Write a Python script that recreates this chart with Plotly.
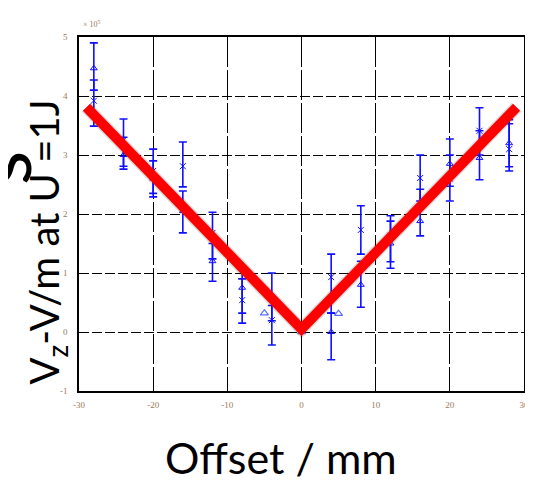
import plotly.graph_objects as go

# Offsets (mm)
offsets = [-28, -24, -20, -16, -12, -8, -4, 4, 8, 12, 16, 20, 24, 28]

# Series A ("x" markers), units of 1e5 V/m
a_val = [3.92, 3.25, 2.73, 2.81, 1.68, 0.54, 0.20, 0.93, 1.73, 1.63, 2.61, 2.60, 3.41, 3.10]
a_hi  = [4.27, 3.61, 3.10, 3.22, 2.03, 0.90, 0.45, 1.32, 2.14, 1.97, 3.00, 3.00, 3.80, 3.53]
a_lo  = [3.49, 2.81, 2.35, 2.46, 1.24, 0.32, -0.22, 0.32, 1.32, 1.19, 2.22, 2.22, 3.00, 2.73]

# Series B (triangle markers)
b_val = [4.47, 3.00, 2.60, 2.05, 1.20, 0.75, 0.55, 0.00, 0.80, 1.50, 1.88, 2.85, 2.95, 3.20]
b_hi  = [4.90, 3.30, 2.90, 2.39, 1.50, 1.12, 1.00, 0.32, 1.20, 1.88, 2.42, 3.27, 3.41, 3.60]
b_lo  = [4.10, 2.76, 2.29, 1.68, 0.86, 0.15, 0.19, -0.47, 0.42, 1.08, 1.63, 2.47, 2.58, 2.80]

# Extra triangle points without error bars
c_x = [-5, 0, 5]
c_val = [0.32, 0.0, 0.31]

# V-shaped fit line
fit_x = [-29, 0, 29]
fit_y = [3.81, 0.05, 3.81]

x_ticks = [-30, -20, -10, 0, 10, 20, 30]
y_ticks = [-1, 0, 1, 2, 3, 4, 5]

blue = "#1010ff"
fig = go.Figure()

def add_series(xs, v, hi, lo, symbol):
    fig.add_trace(go.Scatter(
        x=xs, y=v, mode="markers",
        marker=dict(symbol=symbol, size=6, color=blue, line=dict(color=blue, width=1)),
        error_y=dict(type="data", symmetric=False,
                     array=[h - c for h, c in zip(hi, v)],
                     arrayminus=[c - l for c, l in zip(v, lo)],
                     color=blue, thickness=1.6, width=4),
        showlegend=False))

add_series(offsets, a_val, a_hi, a_lo, "x-thin-open")
add_series(offsets, b_val, b_hi, b_lo, "triangle-up-open")
fig.add_trace(go.Scatter(x=c_x, y=c_val, mode="markers",
                         marker=dict(symbol="triangle-up-open", size=7, color="#5a6cff",
                                     line=dict(width=1.2)),
                         showlegend=False))

# shadow + red fit line
fig.add_trace(go.Scatter(x=fit_x, y=fit_y, mode="lines",
                         line=dict(color="rgba(60,60,60,0.18)", width=13),
                         showlegend=False, hoverinfo="skip"))
fig.add_trace(go.Scatter(x=fit_x, y=fit_y, mode="lines",
                         line=dict(color="#ff0000", width=10),
                         showlegend=False))

tickfont = dict(family="Liberation Serif", size=9, color="#9a7a5a")

fig.update_xaxes(range=[-30, 30], tickvals=x_ticks, ticktext=[str(t) for t in x_ticks],
                 showgrid=True, gridcolor="black", gridwidth=1.4, griddash="30px,3px",
                 showline=True, linecolor="black", linewidth=1.6, mirror=True,
                 zeroline=False, ticks="", tickfont=tickfont, ticklabelstandoff=4)
fig.update_yaxes(range=[-1, 5], tickvals=y_ticks, ticktext=[str(t) for t in y_ticks],
                 showgrid=True, gridcolor="black", gridwidth=1.4, griddash="10px,3px",
                 showline=True, linecolor="black", linewidth=1.6, mirror=True,
                 zeroline=False, ticks="", tickfont=tickfont, ticklabelstandoff=8)

annotations = [
    dict(text="× 10<sup>5</sup>", x=0.0, y=1.0, xref="paper", yref="paper",
         xanchor="left", yanchor="bottom", yshift=6, xshift=2, showarrow=False,
         font=dict(family="Liberation Serif", size=8, color="#9a7a5a")),
    dict(text="V<sub>z</sub>-V/m at U =1J", x=-0.073, y=0.432, xref="paper", yref="paper",
         yshift=-4, textangle=-90, showarrow=False, xanchor="center", yanchor="middle",
         font=dict(family="Lato", size=40, color="black")),
    dict(text="Offset / mm", x=0.453, y=-0.2175, xref="paper", yref="paper",
         yshift=10, showarrow=False, xanchor="center", yanchor="middle",
         font=dict(family="Lato", size=43, color="black")),
]

# partially visible large letter at the left edge (carried by an invisible shape label)
fig.add_shape(type="line", xref="paper", yref="paper",
              x0=-0.18, x1=-0.18, y0=0.565, y1=0.695,
              line=dict(width=0, color="rgba(0,0,0,0)"),
              label=dict(text="s", textangle=-90, textposition="middle",
                         xanchor="center", yanchor="middle",
                         font=dict(family="Lato", size=80, color="black")))

fig.update_layout(
    width=533, height=484,
    margin=dict(l=71, r=12, t=29, b=101),
    paper_bgcolor="white", plot_bgcolor="white",
    annotations=annotations,
)

fig.write_html("out.html")
